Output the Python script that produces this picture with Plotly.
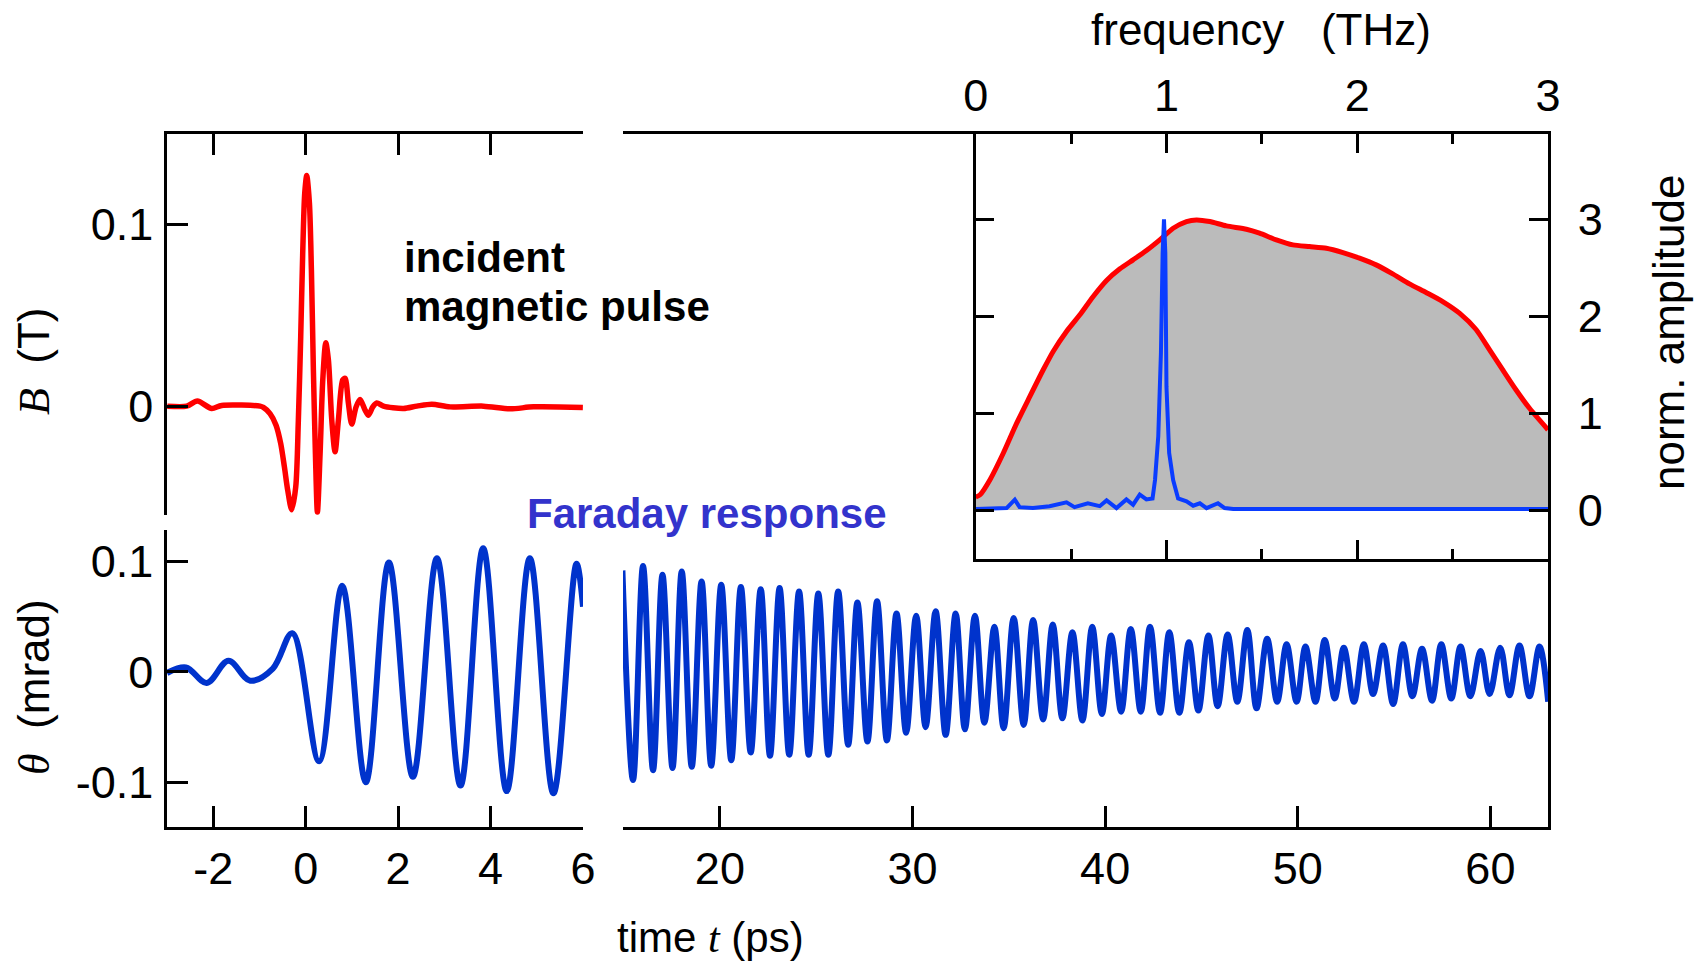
import plotly.graph_objects as go

# ---------------- data ----------------
# incident magnetic pulse B(t), t in ps, B in T
B_t = [-2.993, -2.574, -2.343, -2.033, -1.817, -0.987, -0.915, -0.771, -0.641, -0.540,
       -0.460, -0.388, -0.302, -0.215, -0.158, -0.107, -0.064, -0.020, 0.023, 0.081,
       0.124, 0.167, 0.211, 0.254, 0.312, 0.370, 0.435, 0.492, 0.565, 0.636,
       0.708, 0.802, 0.853, 0.925, 0.997, 1.091, 1.177, 1.286, 1.358, 1.452,
       1.539, 1.683, 2.116, 2.405, 2.729, 3.126, 3.847, 4.424, 4.929, 5.997]
B_v = [0.0, 0.0, 0.0028, -0.0013, 0.0004, 0.0, -0.0007, -0.0041, -0.0105, -0.0206,
       -0.0335, -0.0464, -0.0571, -0.0446, -0.0077, 0.0383, 0.0843, 0.1175, 0.1271, 0.1120,
       0.0751, 0.0199, -0.0262, -0.0584, -0.0262, 0.0144, 0.0350, 0.0254, -0.0077, -0.0252,
       -0.0077, 0.0144, 0.0153, 0.0015, -0.0099, -0.0004, 0.0037, -0.0022, -0.0050, -0.0004,
       0.0018, 0.0, -0.0013, 0.0, 0.0011, -0.0004, 0.0, -0.0015, -0.0004, -0.0007]

# Faraday rotation, early window (-3 .. 6 ps), mrad
TH1_t = [-3.0, -2.59, -2.14, -1.67, -1.20, -0.71, -0.29, 0.29, 0.79, 1.30,
         1.80, 2.32, 2.84, 3.35, 3.84, 4.35, 4.85, 5.36, 5.86, 6.0]
TH1_v = [-0.001, 0.004, -0.010, 0.010, -0.008, 0.003, 0.035, -0.081, 0.078, -0.100,
         0.099, -0.095, 0.103, -0.103, 0.112, -0.108, 0.103, -0.110, 0.098, 0.059]

# Faraday rotation, late window (15 .. 63 ps): extrema of the oscillation
TH2_t = [14.94, 15.49, 16.01, 16.53, 17.02, 17.54, 18.02, 18.54, 19.05, 19.55,
         20.07, 20.59, 21.09, 21.60, 22.12, 22.60, 23.10, 23.60, 24.11, 24.61,
         25.11, 25.63, 26.14, 26.66, 27.14, 27.66, 28.16, 28.67, 29.17, 29.67,
         30.19, 30.68, 31.20, 31.72, 32.24, 32.72, 33.24, 33.73, 34.25, 34.73,
         35.25, 35.77, 36.26, 36.78, 37.28, 37.78, 38.30, 38.82, 39.33,
         39.83, 40.31, 40.83, 41.33, 41.85, 42.33, 42.85, 43.33, 43.85, 44.35,
         44.84, 45.36, 45.84, 46.36, 46.86, 47.38, 47.86, 48.41, 48.93, 49.42,
         49.94, 50.40, 50.92, 51.40, 51.92, 52.39, 52.92, 53.43, 53.91, 54.43,
         54.95, 55.46, 55.95, 56.45, 56.97, 57.45, 57.97, 58.45, 58.96, 59.49,
         59.96, 60.51, 60.99, 61.51, 62.03, 62.55, 63.0]
TH2_v = [0.092, -0.098, 0.096, -0.089, 0.088, -0.087, 0.091, -0.086, 0.082, -0.085,
         0.079, -0.080, 0.077, -0.073, 0.075, -0.076, 0.076, -0.075, 0.073, -0.075,
         0.071, -0.075, 0.073, -0.066, 0.063, -0.063, 0.064, -0.062, 0.053, -0.055,
         0.051, -0.050, 0.055, -0.057, 0.053, -0.052, 0.051, -0.046, 0.041, -0.051,
         0.049, -0.048, 0.047, -0.043, 0.043, -0.042, 0.036, -0.044, 0.041,
         -0.038, 0.033, -0.036, 0.039, -0.036, 0.041, -0.037, 0.036, -0.037, 0.027,
         -0.035, 0.033, -0.031, 0.034, -0.027, 0.038, -0.033, 0.030, -0.027, 0.025,
         -0.027, 0.023, -0.027, 0.029, -0.024, 0.022, -0.027, 0.025, -0.020, 0.024,
         -0.029, 0.025, -0.022, 0.021, -0.026, 0.025, -0.024, 0.023, -0.022, 0.019,
         -0.020, 0.022, -0.021, 0.024, -0.022, 0.023, -0.027]

# inset spectra (frequency in THz, normalized amplitude)
F_red = [0.0, 0.023, 0.075, 0.145, 0.215, 0.284, 0.354, 0.406, 0.476, 0.546,
         0.616, 0.686, 0.756, 0.825, 0.895, 0.965, 1.035, 1.105, 1.157, 1.227,
         1.314, 1.419, 1.488, 1.576, 1.663, 1.750, 1.838, 1.925, 2.012, 2.099,
         2.186, 2.274, 2.361, 2.448, 2.536, 2.623, 2.693, 2.762, 2.832, 2.902, 3.0]
A_red = [0.134, 0.158, 0.313, 0.588, 0.897, 1.172, 1.447, 1.636, 1.842, 2.014,
         2.203, 2.368, 2.488, 2.581, 2.677, 2.787, 2.907, 2.976, 2.993, 2.976,
         2.931, 2.897, 2.856, 2.787, 2.735, 2.718, 2.701, 2.656, 2.598, 2.529,
         2.436, 2.333, 2.244, 2.151, 2.031, 1.862, 1.655, 1.448, 1.241, 1.052, 0.828]

F_blue = [0.0, 0.092, 0.162, 0.205, 0.23, 0.30, 0.387, 0.476, 0.518, 0.588,
          0.65, 0.686, 0.738, 0.79, 0.825, 0.86, 0.895, 0.927, 0.94, 0.957,
          0.971, 0.98, 0.987, 0.994, 1.0, 1.014, 1.035, 1.061, 1.105, 1.14,
          1.175, 1.21, 1.27, 1.305, 1.35, 3.0]
A_blue = [0.01, 0.01, 0.02, 0.107, 0.03, 0.02, 0.04, 0.08, 0.03, 0.07,
          0.04, 0.10, 0.02, 0.11, 0.055, 0.16, 0.11, 0.12, 0.31, 0.76,
          1.62, 2.65, 3.0, 2.65, 1.27, 0.59, 0.31, 0.12, 0.09, 0.045,
          0.07, 0.02, 0.07, 0.02, 0.01, 0.01]

time_ticks_left = [-2, 0, 2, 4, 6]
time_ticks_right = [20, 30, 40, 50, 60]
freq_ticks = [0, 1, 2, 3]
amp_ticks = [0, 1, 2, 3]

# ---------------- layout helpers ----------------
W, H = 1705, 966
def fx(p):
    return p / W
def fy(p):
    return 1 - p / H

FONT = "Liberation Sans, Arial, sans-serif"
TICKFONT = dict(family=FONT, size=45, color="black")
LW = 2.5

def ax(**kw):
    d = dict(showgrid=False, zeroline=False, showline=True, linecolor="black",
             linewidth=LW, ticks="inside", tickwidth=LW, tickcolor="black",
             ticklen=21, tickfont=TICKFONT, fixedrange=True, automargin=False)
    d.update(kw)
    return d

fig = go.Figure()

fig.add_trace(go.Scatter(x=B_t, y=B_v, xaxis="x", yaxis="y", mode="lines",
                         line=dict(color="#FF0000", width=5.5, shape="spline", smoothing=0.8),
                         showlegend=False))
fig.add_trace(go.Scatter(x=TH1_t, y=TH1_v, xaxis="x2", yaxis="y2", mode="lines",
                         line=dict(color="#0033CC", width=6, shape="spline", smoothing=1.0),
                         showlegend=False))
fig.add_trace(go.Scatter(x=TH2_t, y=TH2_v, xaxis="x3", yaxis="y3", mode="lines",
                         line=dict(color="#0033CC", width=6, shape="spline", smoothing=1.0),
                         showlegend=False))
fig.add_trace(go.Scatter(x=F_red, y=A_red, xaxis="x4", yaxis="y4", mode="lines",
                         fill="tozeroy", fillcolor="#BBBBBB",
                         line=dict(color="#FF0000", width=5, shape="spline", smoothing=0.6),
                         showlegend=False))
fig.add_trace(go.Scatter(x=F_blue, y=A_blue, xaxis="x4", yaxis="y4", mode="lines",
                         line=dict(color="#0A3CFF", width=4),
                         showlegend=False))

fig.update_layout(
    width=W, height=H, autosize=False,
    margin=dict(l=0, r=0, t=0, b=0, pad=0, autoexpand=False),
    paper_bgcolor="white", plot_bgcolor="rgba(0,0,0,0)",
    showlegend=False,
    xaxis=ax(domain=[fx(167), fx(583)], range=[-3, 6], anchor="y", side="top",
             tickvals=time_ticks_left, showticklabels=False),
    yaxis=ax(domain=[fy(515), fy(134)], range=[-0.060, 0.150], anchor="x",
             tickvals=[0, 0.1], ticktext=["0", "0.1"], ticklabelstandoff=2),
    xaxis2=ax(domain=[fx(167), fx(583)], range=[-3, 6], anchor="y2",
              tickvals=time_ticks_left, ticktext=[str(v) for v in time_ticks_left],
              ticklabelstandoff=0),
    yaxis2=ax(domain=[fy(827), fy(530)], range=[-0.1405, 0.1285], anchor="x2",
              tickvals=[-0.1, 0, 0.1], ticktext=["-0.1", "0", "0.1"], ticklabelstandoff=2),
    xaxis3=ax(domain=[fx(623), fx(1548)], range=[14.97, 62.99], anchor="y3",
              tickvals=time_ticks_right, ticktext=[str(v) for v in time_ticks_right],
              mirror=True, ticklabelstandoff=0),
    yaxis3=ax(domain=[fy(827), fy(134)], range=[-0.1405, 0.4875], anchor="x3",
              side="right", ticks="", showticklabels=False),
    xaxis4=ax(domain=[fx(975.7), fx(1548)], range=[0, 3], anchor="y4", side="top",
              tickvals=freq_ticks, ticktext=[str(v) for v in freq_ticks],
              ticklen=19, mirror="ticks", ticklabelstandoff=2,
              minor=dict(tickvals=[0.5, 1.5, 2.5], ticks="inside", ticklen=10,
                         tickwidth=LW, tickcolor="black")),
    yaxis4=ax(domain=[fy(559), fy(134)], range=[-0.505, 3.879], anchor="x4",
              side="right", tickvals=amp_ticks, ticktext=[str(v) for v in amp_ticks],
              ticklen=19, mirror="ticks", ticklabelstandoff=18),
)

annotations = [
    dict(text="incident", x=fx(402), y=fy(257), xanchor="left", yanchor="middle",
         font=dict(family=FONT, size=42, color="black", weight="bold")),
    dict(text="magnetic pulse", x=fx(402), y=fy(307), xanchor="left", yanchor="middle",
         font=dict(family=FONT, size=42, color="black", weight="bold")),
    dict(text="Faraday response", x=fx(525), y=fy(513), xanchor="left", yanchor="middle",
         font=dict(family=FONT, size=42, color="#3333CC", weight="bold")),
    dict(text="frequency\u00a0\u00a0\u00a0(THz)", x=fx(1261), y=fy(30), xanchor="center",
         yanchor="middle", font=dict(family=FONT, size=44, color="black")),
    dict(text="norm.\u00a0amplitude", x=fx(1668), y=fy(333), xanchor="center",
         yanchor="middle", textangle=-90, font=dict(family=FONT, size=44, color="black")),
    dict(text="time <span style='font-family:Liberation Serif'><i>t</i></span> (ps)",
         x=fx(710), y=fy(937), xanchor="center", yanchor="middle",
         font=dict(family=FONT, size=42, color="black")),
    dict(text="<span style='font-family:Liberation Serif'><i>B</i></span>\u00a0\u00a0(T)",
         x=fx(34), y=fy(361), xanchor="center", yanchor="middle", textangle=-90,
         font=dict(family=FONT, size=44, color="black")),
    dict(text="<span style='font-family:Liberation Serif'><i>\u03b8</i></span>\u00a0\u00a0(mrad)",
         x=fx(34), y=fy(687), xanchor="center", yanchor="middle", textangle=-90,
         font=dict(family=FONT, size=44, color="black")),
]
for a in annotations:
    a.update(xref="paper", yref="paper", showarrow=False)
fig.update_layout(annotations=annotations)

fig.write_html("out.html")
